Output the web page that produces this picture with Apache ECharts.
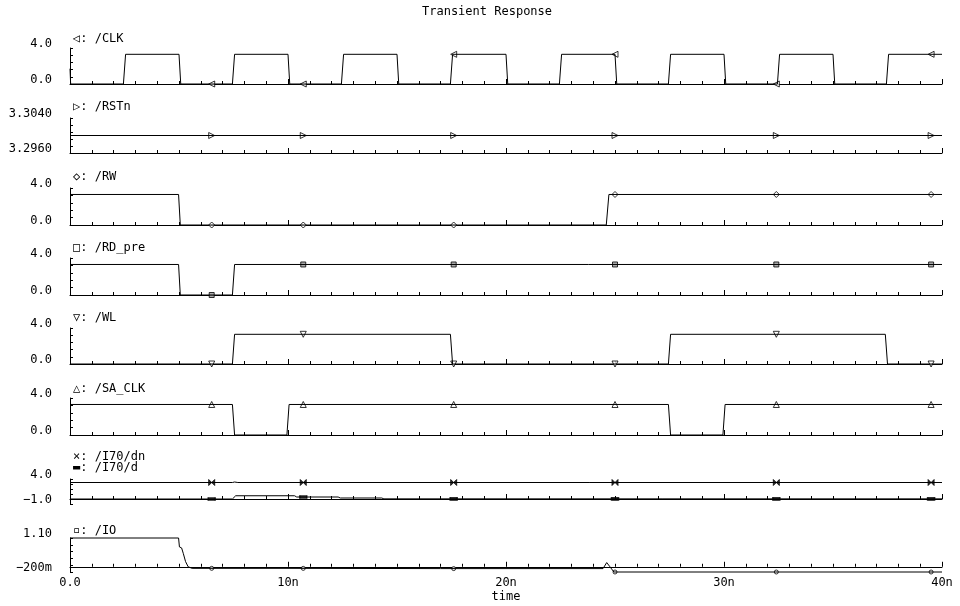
<!DOCTYPE html>
<html>
<head>
<meta charset="utf-8">
<script src="https://cdn.jsdelivr.net/npm/echarts@6/dist/echarts.min.js"></script>
<style>html,body{margin:0;padding:0;background:#fff}#c{width:960px;height:606px}</style>
</head>
<body>
<div id="c"></div>
<script>
// ---- data (time in ns) ----
const markTimes = [6.5, 10.7, 17.6, 25.0, 32.4, 39.5];
const clk = [[0,1.7],[0.03,0],[2.45,0],[2.55,3.3],[5.0,3.3],[5.08,0],[7.45,0],[7.55,3.3],[10.0,3.3],[10.08,0],
  [12.45,0],[12.55,3.3],[15.0,3.3],[15.08,0],[17.45,0],[17.55,3.3],[20.0,3.3],[20.08,0],[22.45,0],[22.55,3.3],
  [25.0,3.3],[25.08,0],[27.45,0],[27.55,3.3],[30.0,3.3],[30.08,0],[32.45,0],[32.55,3.3],[35.0,3.3],[35.08,0],
  [37.45,0],[37.55,3.3],[40,3.3]];
const rstn = [[0,3.3],[40,3.3]];
const rw = [[0,3.3],[4.98,3.3],[5.06,0],[24.6,0],[24.72,3.3],[40,3.3]];
const rdPre = [[0,3.3],[4.98,3.3],[5.06,0],[7.45,0],[7.55,3.3],[40,3.3]];
const wl = [[0,0],[7.45,0],[7.55,3.3],[17.45,3.3],[17.55,0],[27.45,0],[27.55,3.3],[37.4,3.3],[37.5,0],[40,0]];
const saClk = [[0,3.3],[7.45,3.3],[7.55,0],[9.95,0],[10.05,3.3],[27.45,3.3],[27.55,0],[29.95,0],[30.05,3.3],[40,3.3]];
const i70dn = [[0,3.3],[7.45,3.3],[7.55,3.4],[7.7,3.3],[40,3.3]];
const i70d = [[0,0],[7.45,0],[7.6,0.65],[10.3,0.65],[10.4,0.4],[12.3,0.4],[12.4,0.2],[14.3,0.2],[14.4,0.03],[40,0.03]];
const io = [[0,1.1],[4.98,1.1],[5.02,0.76],[5.12,0.72],[5.2,0.5],[5.3,0.2],[5.42,0.0],[5.6,-0.06],[10,-0.06],
  [17,-0.07],[24.45,-0.07],[24.62,0.16],[24.75,0.02],[24.95,-0.2],[40,-0.2]];
const xTickLabels = ['0.0','10n','20n','30n','40n'];
const yRanges = [[0,4],[3.296,3.304],[0,4],[0,4],[0,4],[0,4],[-1,4],[-0.2,1.1]];
const yTickLabels = [['0.0','4.0'],['3.2960','3.3040'],['0.0','4.0'],['0.0','4.0'],['0.0','4.0'],['0.0','4.0'],['\u22121.0','4.0'],['\u2212200m','1.10']];
const panelNames = [['\u25C1: /CLK'],['\u25B7: /RSTn'],['\u25C7: /RW'],['\u25A1: /RD_pre'],['\u25BD: /WL'],['\u25B3: /SA_CLK'],['\u00D7: /I70/dn','\u25AC: /I70/d'],['\u25AB: /IO']];

// ---- layout ----
const FONT = '"DejaVu Sans Mono", monospace';
const grids = [[48,36],[118,35],[188,37],[258,37],[328,36],[398,37],[479,25],[538,34]];
const labelY = [[40],[108],[178],[249],[319],[390],[458,469],[532]];

function interp(d, t){
  for(let i=1;i<d.length;i++){
    if(t<=d[i][0]){const a=d[i-1],b=d[i];const f=(t-a[0])/(b[0]-a[0]||1);return a[1]+f*(b[1]-a[1]);}
  }
  return d[d.length-1][1];
}

const grid=[], xAxis=[], yAxis=[], series=[], graphic=[];
grids.forEach((g,i)=>{
  grid.push({left:70,right:18,top:g[0],height:g[1]});
  const last = i===grids.length-1;
  xAxis.push({type:'value',gridIndex:i,min:0,max:40,interval:10,
    axisLine:{show:true,lineStyle:{color:'#000',width:1}},
    axisTick:{show:true,inside:true,length:5,lineStyle:{color:'#000'}},
    minorTick:{show:true,splitNumber:10,length:3,lineStyle:{color:'#000'}},
    splitLine:{show:false},
    axisLabel:{show:last,margin:5,color:'#000',fontFamily:FONT,fontSize:12,
      formatter:(v)=>xTickLabels[Math.round(v/10)]},
    name:last?'time':'',nameLocation:'middle',nameGap:19,
    nameTextStyle:{color:'#000',fontFamily:FONT,fontSize:12}
  });
  const r=yRanges[i];
  const ticks=[0,1,2,3,4,5].map(k=>r[0]+(r[1]-r[0])*k/5);
  yAxis.push({type:'value',gridIndex:i,min:r[0],max:r[1],
    axisLine:{show:true,lineStyle:{color:'#000',width:1}},
    axisTick:{show:true,inside:true,length:3,customValues:ticks,lineStyle:{color:'#000'}},
    splitLine:{show:false},
    axisLabel:{show:true,margin:18,color:'#000',fontFamily:FONT,fontSize:12,verticalAlign:'bottom',lineHeight:8,
      customValues:[r[0],r[1]],
      formatter:(v)=> (Math.abs(v-r[0])<Math.abs(v-r[1]))?yTickLabels[i][0]:yTickLabels[i][1]}
  });
  panelNames[i].forEach((n,j)=>{
    graphic.push({type:'text',left:73,top:labelY[i][j]-7,style:{text:n,font:'12px '+FONT,fill:'#000'}});
  });
});

const sigs = [
  {d:clk,g:0,sym:'triangle',rot:90,size:6,fill:'#fff'},
  {d:rstn,g:1,sym:'triangle',rot:-90,size:6,fill:'#fff'},
  {d:rw,g:2,sym:'diamond',rot:0,size:6,fill:'#fff'},
  {d:rdPre,g:3,sym:'rect',rot:0,size:5,fill:'#999'},
  {d:wl,g:4,sym:'triangle',rot:180,size:6,fill:'#fff'},
  {d:saClk,g:5,sym:'triangle',rot:0,size:6,fill:'#fff'},
  {d:i70dn,g:6,sym:'path://M0,0L10,10L10,0L0,10Z',rot:0,size:6,fill:'#000'},
  {d:i70d,g:6,sym:'rect',rot:0,size:[7,3],fill:'#000'},
  {d:io,g:7,sym:'circle',rot:0,size:4,fill:'#fff'}
];
sigs.forEach(s=>{
  series.push({type:'line',xAxisIndex:s.g,yAxisIndex:s.g,data:s.d,showSymbol:false,silent:true,animation:false,
    lineStyle:{color:'#000',width:1},clip:false});
  series.push({type:'scatter',xAxisIndex:s.g,yAxisIndex:s.g,silent:true,animation:false,
    data:markTimes.map(t=>[t,interp(s.d,t)]),symbol:s.sym,symbolRotate:s.rot,symbolSize:s.size,
    itemStyle:{color:s.fill,borderColor:'#000',borderWidth:1}});
});

graphic.push({type:'text',left:422,top:6,style:{text:'Transient Response',font:'12px '+FONT,fill:'#000'}});

const chart = echarts.init(document.getElementById('c'),null,{renderer:'canvas'});
chart.setOption({animation:false,backgroundColor:'#fff',grid,xAxis,yAxis,series,graphic});
</script>
</body>
</html>
